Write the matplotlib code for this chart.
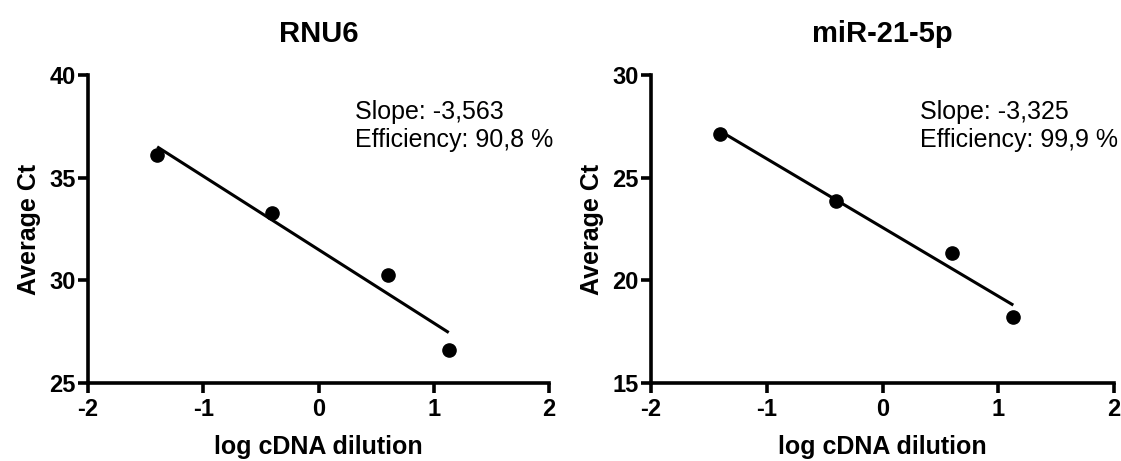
import numpy as np
import matplotlib
matplotlib.use("Agg")
import matplotlib.pyplot as plt

plt.rcParams['font.family'] = ['Liberation Sans', 'DejaVu Sans']

log_dilution = [-1.40, -0.40, 0.60, 1.13]
rnu6_ct = [36.10, 33.28, 30.26, 26.60]
mir21_ct = [27.13, 23.86, 21.33, 18.21]

titles = ["RNU6", "miR-21-5p"]
slope_text = ["Slope: -3,563", "Slope: -3,325"]
eff_text = ["Efficiency: 90,8 %", "Efficiency: 99,9 %"]
ylims = [(25, 40), (15, 30)]
yticks = [[25, 30, 35, 40], [15, 20, 25, 30]]
xticks = [-2, -1, 0, 1, 2]

fig = plt.figure(figsize=(11.21, 4.61), dpi=100)
bottom = 1 - 383 / 461
top = 1 - 75 / 461
positions = [(88, 549), (651, 1114)]

for i, (ct, (xl, xr)) in enumerate(zip([rnu6_ct, mir21_ct], positions)):
    ax = fig.add_axes([xl / 1121, bottom, (xr - xl) / 1121, top - bottom])
    x = np.array(log_dilution)
    y = np.array(ct)
    coef = np.polyfit(x, y, 1)
    xf = np.array([x.min(), x.max()])
    ax.plot(xf, np.polyval(coef, xf), color='black', lw=2.2, solid_capstyle='butt', zorder=2)
    ax.plot(x, y, 'o', color='black', ms=9.5, zorder=3, clip_on=False)
    ax.set_xlim(-2, 2)
    ax.set_ylim(*ylims[i])
    ax.set_xticks(xticks)
    ax.set_yticks(yticks[i])
    ax.set_xticklabels([str(t) for t in xticks], fontweight='bold', fontsize=17)
    ax.set_yticklabels([str(t) for t in yticks[i]], fontweight='bold', fontsize=17)
    for s in ['top', 'right']:
        ax.spines[s].set_visible(False)
    for s in ['left', 'bottom']:
        ax.spines[s].set_linewidth(2.6)
        ax.spines[s].set_capstyle('projecting')
    ax.tick_params(width=2.6, length=7, direction='out')
    ax.tick_params(axis='x', pad=4)
    ax.tick_params(axis='y', pad=2)
    ax.set_title(titles[i], fontsize=21, fontweight='bold', pad=24)
    ax.set_xlabel("log cDNA dilution", fontsize=18, fontweight='bold', labelpad=10)
    ax.set_ylabel("Average Ct", fontsize=18, fontweight='bold', labelpad=6)
    ax.text(0.58, 0.92, slope_text[i] + "\n" + eff_text[i], transform=ax.transAxes,
            fontsize=18, va='top', ha='left', linespacing=1.25)

fig.savefig("out.png", dpi=100)
